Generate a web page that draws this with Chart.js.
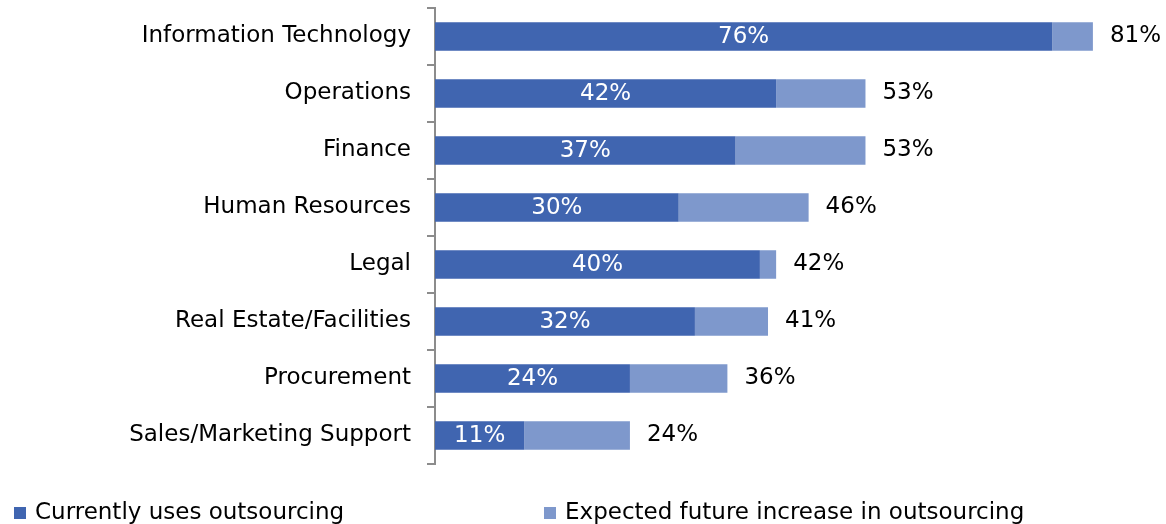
<!DOCTYPE html>
<html>
<head>
<meta charset="utf-8">
<script src="https://cdn.jsdelivr.net/npm/chart.js@4.4.1/dist/chart.umd.min.js"></script>
<style>
  body { margin: 0; background: #fff; }
  #wrap { position: relative; width: 1166px; height: 524px; }
  .legend-item {
    position: absolute;
    top: 498px;
    font-family: "DejaVu Sans", sans-serif;
    font-size: 23px;
    line-height: 27px;
    color: #000;
    white-space: nowrap;
  }
  .legend-item span.box {
    position: absolute;
    width: 12px;
    height: 12px;
    top: 9px;
  }
</style>
</head>
<body>
<div id="wrap">
  <canvas id="barChart" width="1166" height="524"></canvas>
</div>
<script>
// chart data
var categories = [
  "Information Technology",
  "Operations",
  "Finance",
  "Human Resources",
  "Legal",
  "Real Estate/Facilities",
  "Procurement",
  "Sales/Marketing Support",
];
var currentUse = [76, 42, 37, 30, 40, 32, 24, 11]; // Currently uses outsourcing
var futureIncrease = [5, 11, 16, 16, 2, 9, 12, 13]; // Expected future increase
var totalLabels = [81, 53, 53, 46, 42, 41, 36, 24]; // numbers shown after the bars

var darkBlue = "rgb(64, 101, 176)";
var lightBlue = "rgb(126, 152, 204)";
var fontName = "'DejaVu Sans', sans-serif";

// draw the % labels on and after the bars
const barLabels = {
  id: "barLabels",
  afterDatasetsDraw(chart) {
    const ctx = chart.ctx;
    const inner = chart.getDatasetMeta(0).data;
    const outer = chart.getDatasetMeta(1).data;
    ctx.save();
    ctx.font = "23px " + fontName;
    ctx.textBaseline = "middle";
    inner.forEach((bar, i) => {
      ctx.fillStyle = "#ffffff";
      ctx.textAlign = "center";
      ctx.fillText(currentUse[i] + "%", (bar.x + bar.base) / 2, bar.y + 1);
      ctx.fillStyle = "#000000";
      ctx.textAlign = "left";
      ctx.fillText(totalLabels[i] + "%", outer[i].x + 17, outer[i].y);
    });
    ctx.restore();
  },
};

var chart = new Chart(document.getElementById("barChart"), {
  type: "bar",
  data: {
    labels: categories,
    datasets: [
      {
        label: "Currently uses outsourcing",
        data: currentUse,
        backgroundColor: darkBlue,
        barPercentage: 0.5,
        categoryPercentage: 1.0,
      },
      {
        label: "Expected future increase in outsourcing",
        data: futureIncrease,
        backgroundColor: lightBlue,
        barPercentage: 0.5,
        categoryPercentage: 1.0,
      },
    ],
  },
  options: {
    indexAxis: "y",
    responsive: false,
    animation: false,
    layout: { padding: { top: 8, bottom: 60, left: 0, right: 0 } },
    plugins: {
      legend: { display: false },
      tooltip: { enabled: false },
    },
    scales: {
      x: {
        stacked: true,
        min: 0,
        max: 90,
        display: false,
      },
      y: {
        stacked: true,
        afterFit: (scale) => {
          scale.width = 435;
          scale.paddingTop = 0;
          scale.paddingBottom = 0;
        },
        border: { display: true, color: "#8c8c8c", width: 2 },
        grid: {
          drawOnChartArea: false,
          drawTicks: true,
          tickLength: 8,
          color: "#8c8c8c",
          lineWidth: 2,
        },
        ticks: {
          color: "#000000",
          padding: 16,
          font: { family: fontName, size: 23 },
        },
      },
    },
  },
  plugins: [barLabels],
});

// html legend, spaced like the original
var legendPos = [14, 544];
chart.data.datasets.forEach((ds, i) => {
  var item = document.createElement("div");
  item.className = "legend-item";
  item.style.left = legendPos[i] + "px";
  item.style.paddingLeft = "21px";
  item.innerHTML =
    '<span class="box" style="left:0;background:' + ds.backgroundColor + '"></span>' + ds.label;
  document.getElementById("wrap").appendChild(item);
});
</script>
</body>
</html>
